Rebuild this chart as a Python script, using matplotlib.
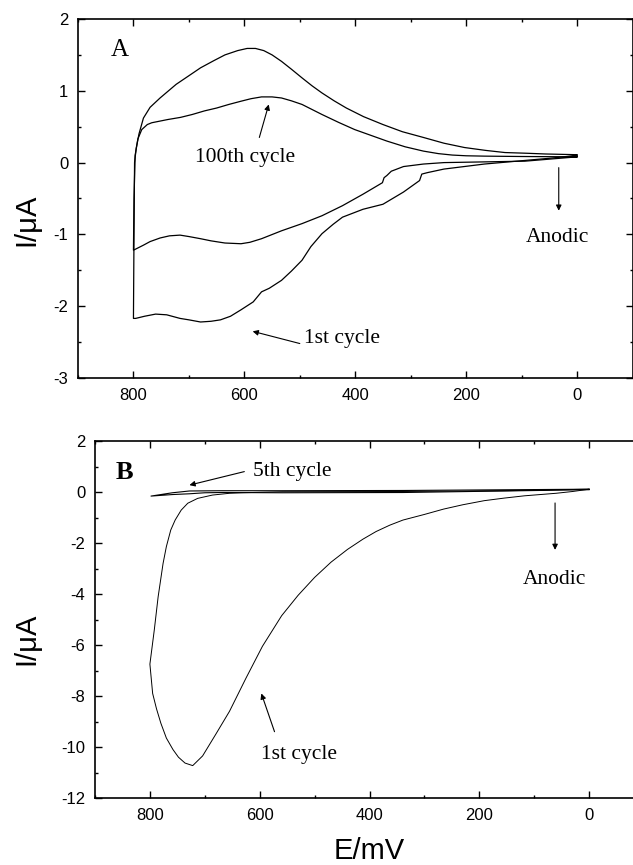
import matplotlib
matplotlib.use("Agg")
import matplotlib.pyplot as plt
from matplotlib.ticker import MultipleLocator

plt.rcParams['font.family'] = ['Liberation Sans', 'DejaVu Sans']
plt.rcParams['axes.unicode_minus'] = False

# --- panel A: 1st and 100th cycle (E in mV, I in uA)
a1_E = [0, 50, 94, 167, 240, 270, 280, 284, 313, 350, 386, 423, 440, 460, 480, 496,
        515, 533, 555, 569, 584, 606, 625, 643, 660, 679, 700, 716, 740, 760, 780, 796, 800,
        799, 798, 795, 790, 782, 770, 752, 723, 700, 679, 655, 635, 612, 595, 580, 565,
        550, 533, 515, 496, 478, 460, 438, 416, 385, 350, 315, 277, 240, 203, 165, 130, 90, 57, 0]
a1_I = [0.10, 0.06, 0.03, -0.02, -0.09, -0.14, -0.16, -0.25, -0.41, -0.58, -0.65, -0.76, -0.86,
        -0.99, -1.17, -1.36, -1.51, -1.64, -1.75, -1.80, -1.94, -2.05, -2.14, -2.19, -2.21, -2.22,
        -2.19, -2.17, -2.12, -2.11, -2.14, -2.17, -2.17,
        -1.0, 0.0, 0.20, 0.40, 0.62, 0.77, 0.90, 1.09, 1.21, 1.32, 1.42, 1.50, 1.56, 1.59, 1.59,
        1.56, 1.50, 1.41, 1.30, 1.18, 1.07, 0.97, 0.86, 0.76, 0.64, 0.53, 0.43, 0.35, 0.27, 0.21,
        0.17, 0.14, 0.13, 0.12, 0.11]

a100_E = [0, 94, 167, 240, 277, 313, 335, 343, 348, 351, 386, 423, 460, 496, 533, 569, 590,
          606, 635, 660, 679, 700, 716, 735, 752, 770, 782, 800,
          799, 797, 792, 785, 775, 767, 738, 715, 694, 672, 650, 628, 606, 588, 569, 550, 533,
          515, 496, 478, 460, 430, 401, 372, 343, 310, 277, 250, 225, 200, 167, 100, 0]
a100_I = [0.08, 0.02, 0.01, 0.0, -0.02, -0.055, -0.12, -0.18, -0.21, -0.28, -0.44, -0.60, -0.74,
          -0.85, -0.95, -1.06, -1.11, -1.13, -1.12, -1.09, -1.06, -1.03, -1.01, -1.02, -1.05,
          -1.10, -1.15, -1.22,
          -0.5, 0.1, 0.33, 0.46, 0.53, 0.555, 0.60, 0.63, 0.67, 0.72, 0.76, 0.81, 0.855, 0.89,
          0.915, 0.915, 0.90, 0.86, 0.81, 0.74, 0.67, 0.56, 0.46, 0.38, 0.30, 0.22, 0.16, 0.125,
          0.105, 0.095, 0.09, 0.085, 0.08]

# --- panel B: 1st and 5th cycle
b1_E = [0, 30, 60, 118, 155, 191, 230, 265, 300, 339, 363, 388, 412, 440, 470, 500, 530, 560,
        595, 625, 655, 680, 704, 722, 736, 748, 758, 770, 780, 788, 795, 800,
        792, 785, 776, 770, 762, 754, 743, 731, 713, 686, 655, 633, 559, 339, 150, 0]
b1_I = [0.11, 0.02, -0.05, -0.15, -0.24, -0.34, -0.50, -0.67, -0.88, -1.10, -1.30, -1.55, -1.85,
        -2.25, -2.75, -3.35, -4.05, -4.85, -6.05, -7.30, -8.60, -9.50, -10.35, -10.73, -10.63,
        -10.40, -10.10, -9.65, -9.07, -8.50, -7.90, -6.75,
        -5.41, -4.11, -2.80, -2.14, -1.49, -1.10, -0.71, -0.44, -0.25, -0.12, -0.05, -0.03,
        0.01, 0.02, 0.05, 0.11]

b5_E = [0, 339, 559, 668, 700, 728, 759, 798, 759, 728, 668, 559, 339, 0]
b5_I = [0.09, -0.02, -0.03, -0.02, -0.03, -0.07, -0.10, -0.16, -0.03, 0.04, 0.05, 0.05, 0.06, 0.11]

serif = ['Liberation Serif', 'DejaVu Serif']
arrow = dict(arrowstyle='-|>', lw=0.8, color='k', mutation_scale=8, shrinkA=0, shrinkB=0)

fig = plt.figure(figsize=(6.33, 8.65), dpi=100)
axA = fig.add_axes([78/633, 1-378/865, (632.5-78)/633, (378-19)/865])
axB = fig.add_axes([95/633, 1-798/865, (644-95)/633, (798-441)/865])

axA.plot(a1_E, a1_I, color='k', lw=0.9)
axA.plot(a100_E, a100_I, color='k', lw=0.9)
axB.plot(b1_E, b1_I, color='k', lw=0.7)
axB.plot(b5_E, b5_I, color='k', lw=0.8)

for ax in (axA, axB):
    ax.set_xlim(900, -100)
    ax.xaxis.set_major_locator(MultipleLocator(200))
    ax.xaxis.set_minor_locator(MultipleLocator(100))
    ax.tick_params(which='both', direction='in', top=True, right=True, labelsize=12, pad=7, width=1)
    ax.tick_params(which='major', length=5)
    ax.tick_params(which='minor', length=2.5)
    for s in ax.spines.values():
        s.set_linewidth(1.2)

axA.set_ylim(-3, 2)
axA.yaxis.set_major_locator(MultipleLocator(1))
axA.yaxis.set_minor_locator(MultipleLocator(0.5))
axB.set_ylim(-12, 2)
axB.yaxis.set_major_locator(MultipleLocator(2))
axB.yaxis.set_minor_locator(MultipleLocator(1))

# annotations A
axA.text(825, 1.57, "A", family=serif, fontsize=18, ha='center', va='center')
axA.annotate("", xy=(556, 0.81), xytext=(573, 0.35), arrowprops=arrow)
axA.text(599, 0.07, "100th cycle", family=serif, fontsize=15.5, ha='center', va='center')
axA.annotate("", xy=(585, -2.35), xytext=(500, -2.52), arrowprops=arrow)
axA.text(423, -2.45, "1st cycle", family=serif, fontsize=15.5, ha='center', va='center')
axA.annotate("", xy=(33, -0.67), xytext=(33, -0.07), arrowprops=arrow)
axA.text(36, -1.04, "Anodic", family=serif, fontsize=15.5, ha='center', va='center')

# annotations B
axB.text(847, 0.75, "B", family=serif, fontsize=19, fontweight='bold', ha='center', va='center')
axB.annotate("", xy=(728, 0.27), xytext=(628, 0.80), arrowprops=arrow)
axB.text(541, 0.82, "5th cycle", family=serif, fontsize=15.5, ha='center', va='center')
axB.annotate("", xy=(597, -7.9), xytext=(573, -9.4), arrowprops=arrow)
axB.text(529, -10.3, "1st cycle", family=serif, fontsize=15.5, ha='center', va='center')
axB.annotate("", xy=(62, -2.27), xytext=(62, -0.43), arrowprops=arrow)
axB.text(63, -3.45, "Anodic", family=serif, fontsize=15.5, ha='center', va='center')

fig.text(26.5/633, 1-220/865, "I/\u03bcA", rotation=90, fontsize=21, ha='center', va='center')
fig.text(26.5/633, 1-638.5/865, "I/\u03bcA", rotation=90, fontsize=21, ha='center', va='center')
fig.text(369/633, 6/865, "E/mV", fontsize=21, ha='center', va='baseline')

fig.savefig("out.png", dpi=100)
